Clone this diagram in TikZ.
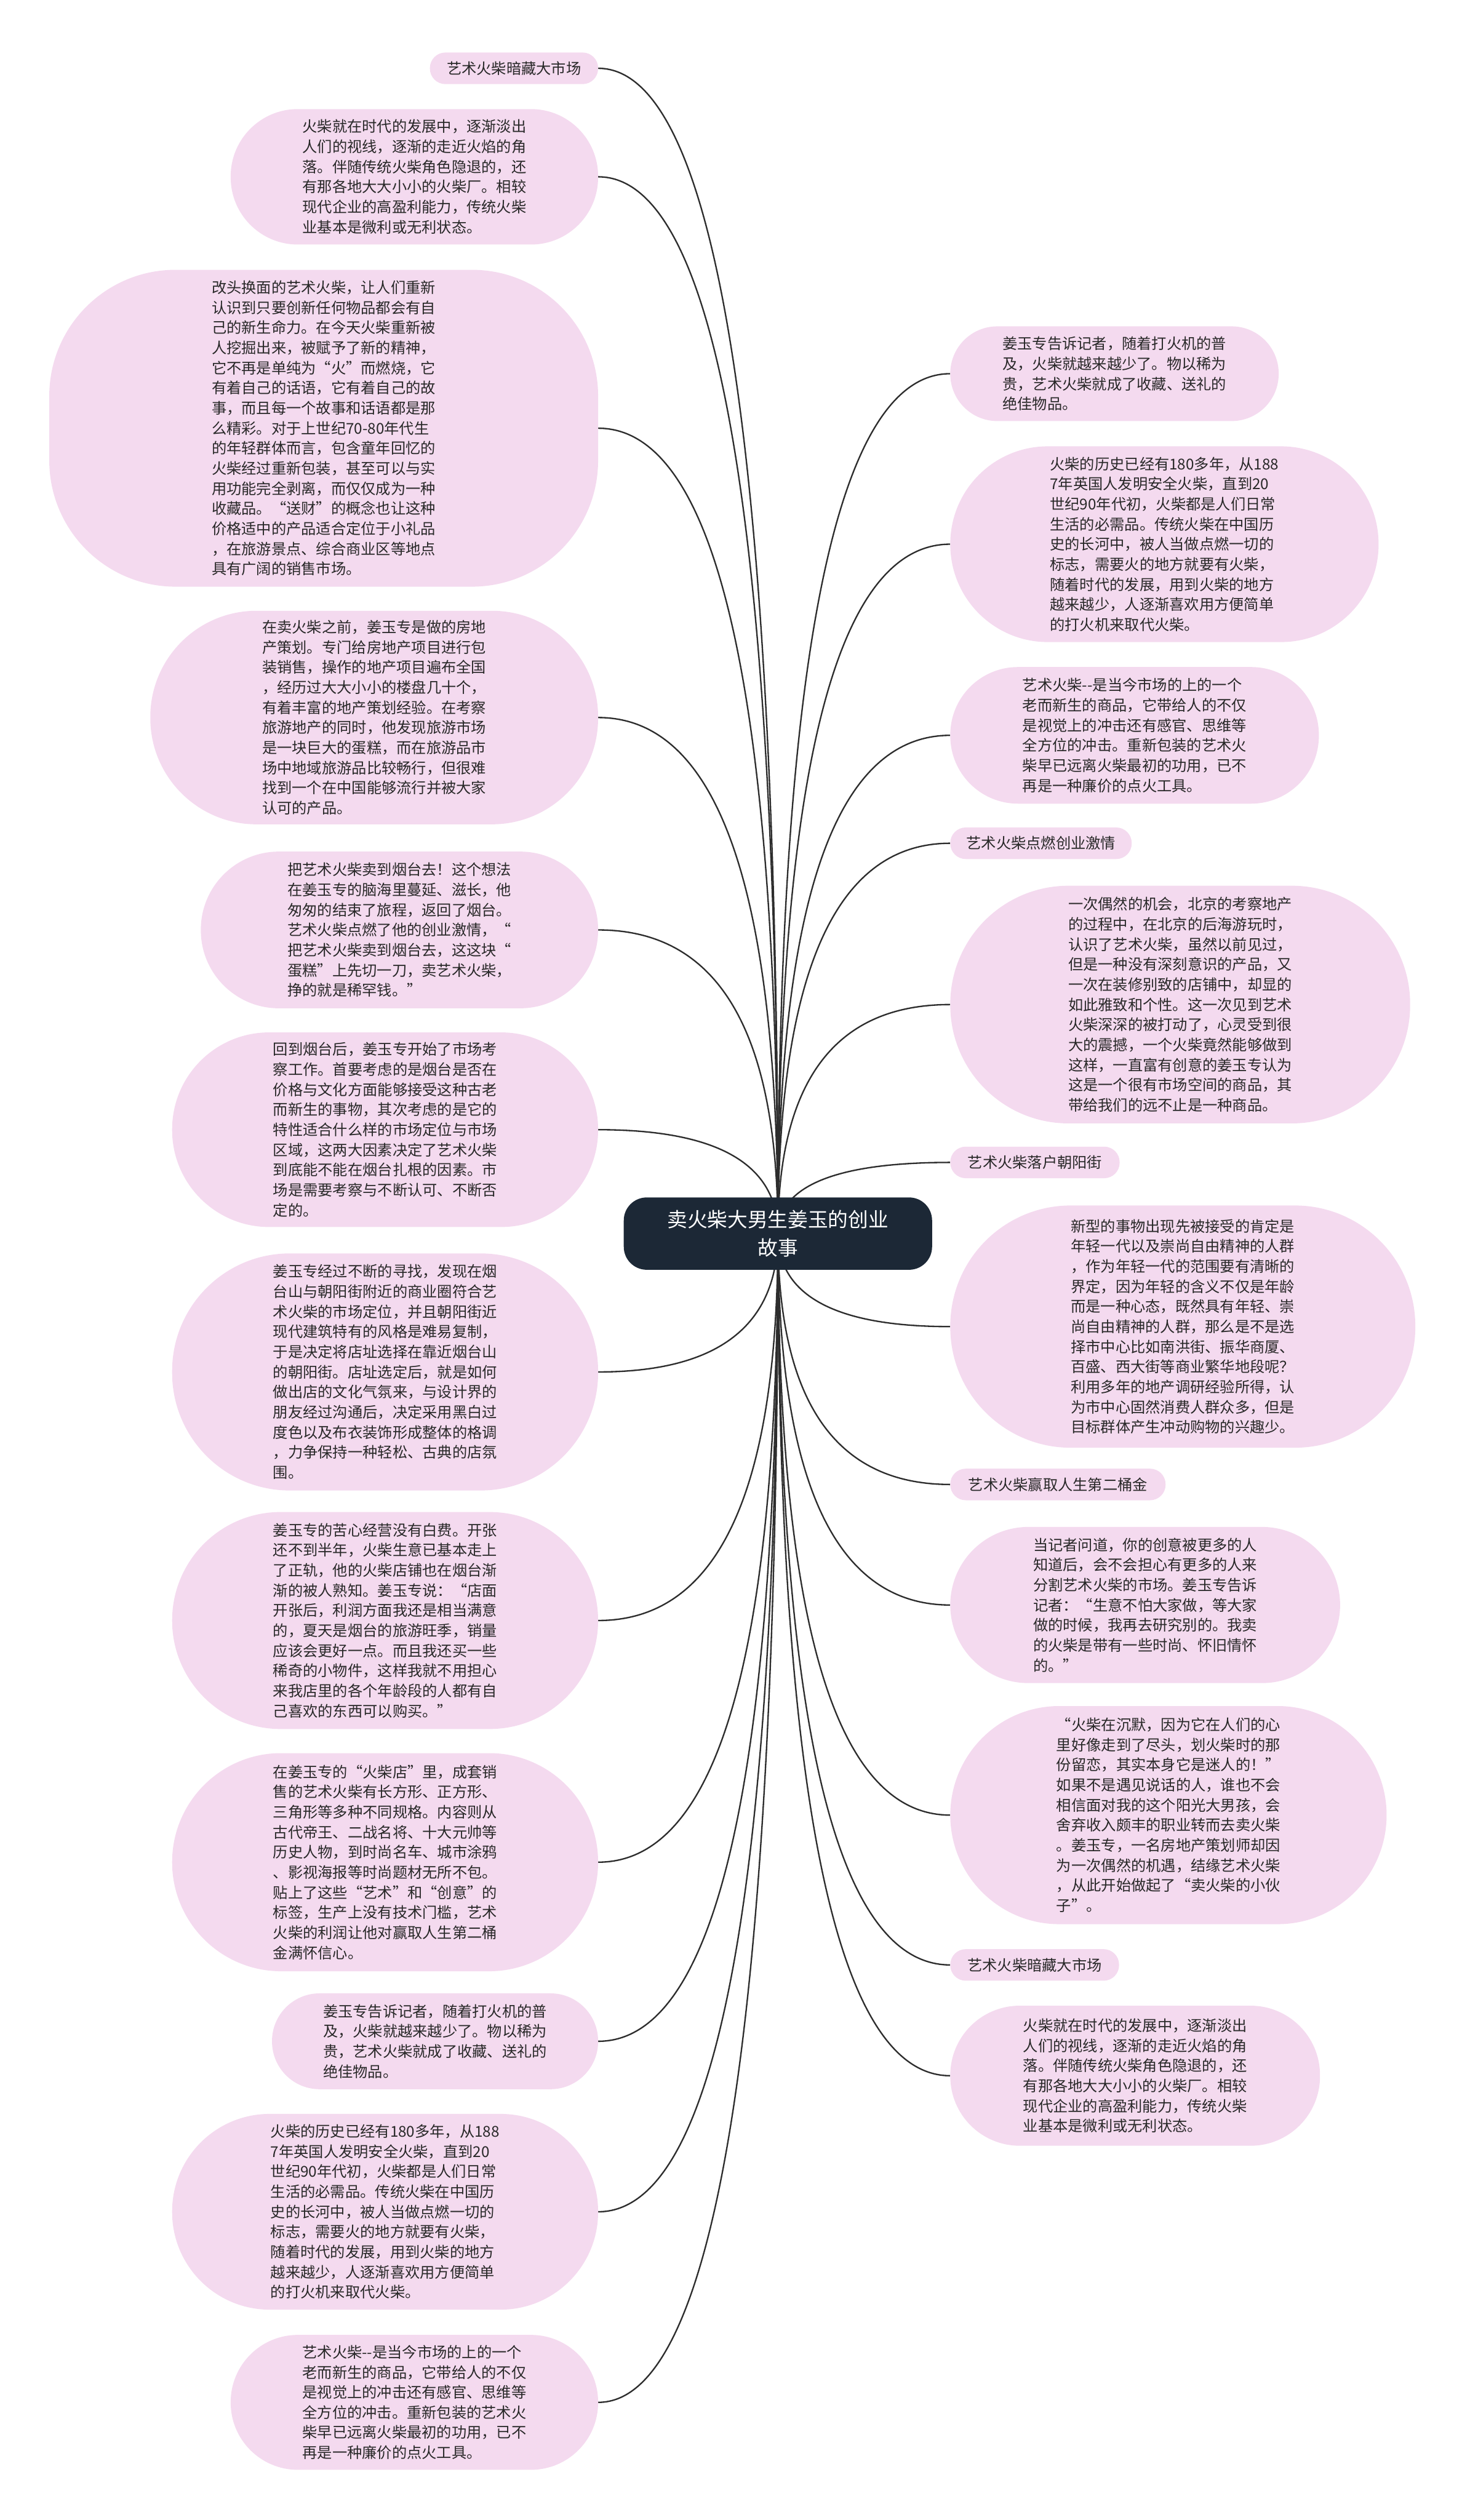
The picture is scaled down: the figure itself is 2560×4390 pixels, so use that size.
\documentclass[tikz,border=0pt]{standalone}
\usepackage{fontspec}
\setmainfont{Noto Sans CJK SC}
\usetikzlibrary{calc,backgrounds}

\definecolor{pinkbg}{RGB}{244,218,239}
\definecolor{rootnavy}{RGB}{28,40,54}
\definecolor{inkgray}{RGB}{40,40,40}
\definecolor{linkgray}{RGB}{45,45,45}

\begin{document}
\begin{tikzpicture}[
    x=1pt, y=-1pt,
    bubble/.style={fill=pinkbg, text=inkgray, align=left, inner sep=0pt,
        font=\fontsize{26pt}{35pt}\selectfont},
    topic/.style={bubble, align=center, minimum height=55pt, rounded corners=27pt},
    root/.style={fill=rootnavy, text=white, align=center, inner sep=0pt,
        minimum width=537pt, minimum height=126pt, rounded corners=40pt,
        font=\fontsize{35pt}{50pt}\selectfont},
    link/.style={draw=linkgray, line width=2.5pt},
    branch/.style={to path={.. controls ($(\tikztostart)!0.667!(\tikztostart |- \tikztotarget)$)
        and ($(\tikztotarget)!0.667!(\tikztostart |- \tikztotarget)$) .. (\tikztotarget)}}
]
    \useasboundingbox (0,0) rectangle (2560,4390);

    % 中心节点
    \node[root] (root) at (1355,2149) {卖火柴大男生姜玉的创业\\故事};

    % 1. 左侧分支
    \node[topic, anchor=east, minimum width=293pt] (L1) at (1042,119) {艺术火柴暗藏大市场};
    \node[bubble, anchor=east, minimum width=640pt, minimum height=236pt, rounded corners=117pt] (L2) at (1042,308) {
        火柴就在时代的发展中，逐渐淡出\\
        人们的视线，逐渐的走近火焰的角\\
        落。伴随传统火柴角色隐退的，还\\
        有那各地大大小小的火柴厂。相较\\
        现代企业的高盈利能力，传统火柴\\
        业基本是微利或无利状态。};
    \node[bubble, anchor=east, minimum width=956pt, minimum height=552pt, rounded corners=220pt] (L3) at (1042,746) {
        改头换面的艺术火柴，让人们重新\\
        认识到只要创新任何物品都会有自\\
        己的新生命力。在今天火柴重新被\\
        人挖掘出来，被赋予了新的精神，\\
        它不再是单纯为“火”而燃烧，它\\
        有着自己的话语，它有着自己的故\\
        事，而且每一个故事和话语都是那\\
        么精彩。对于上世纪70-80年代生\\
        的年轻群体而言，包含童年回忆的\\
        火柴经过重新包装，甚至可以与实\\
        用功能完全剥离，而仅仅成为一种\\
        收藏品。“送财”的概念也让这种\\
        价格适中的产品适合定位于小礼品\\
        ，在旅游景点、综合商业区等地点\\
        具有广阔的销售市场。};
    \node[bubble, anchor=east, minimum width=780pt, minimum height=372pt, rounded corners=185pt] (L4) at (1042,1250) {
        在卖火柴之前，姜玉专是做的房地\\
        产策划。专门给房地产项目进行包\\
        装销售，操作的地产项目遍布全国\\
        ，经历过大大小小的楼盘几十个，\\
        有着丰富的地产策划经验。在考察\\
        旅游地产的同时，他发现旅游市场\\
        是一块巨大的蛋糕，而在旅游品市\\
        场中地域旅游品比较畅行，但很难\\
        找到一个在中国能够流行并被大家\\
        认可的产品。};
    \node[bubble, anchor=east, minimum width=692pt, minimum height=273pt, rounded corners=136pt] (L5) at (1042,1620) {
        把艺术火柴卖到烟台去！这个想法\\
        在姜玉专的脑海里蔓延、滋长，他\\
        匆匆的结束了旅程，返回了烟台。\\
        艺术火柴点燃了他的创业激情，“\\
        把艺术火柴卖到烟台去，这这块“\\
        蛋糕”上先切一刀，卖艺术火柴，\\
        挣的就是稀罕钱。”};
    \node[bubble, anchor=east, minimum width=742pt, minimum height=339pt, rounded corners=169pt] (L6) at (1042,1968) {
        回到烟台后，姜玉专开始了市场考\\
        察工作。首要考虑的是烟台是否在\\
        价格与文化方面能够接受这种古老\\
        而新生的事物，其次考虑的是它的\\
        特性适合什么样的市场定位与市场\\
        区域，这两大因素决定了艺术火柴\\
        到底能不能在烟台扎根的因素。市\\
        场是需要考察与不断认可、不断否\\
        定的。};
    \node[bubble, anchor=east, minimum width=742pt, minimum height=413pt, rounded corners=205pt] (L7) at (1042,2390) {
        姜玉专经过不断的寻找，发现在烟\\
        台山与朝阳街附近的商业圈符合艺\\
        术火柴的市场定位，并且朝阳街近\\
        现代建筑特有的风格是难易复制，\\
        于是决定将店址选择在靠近烟台山\\
        的朝阳街。店址选定后，就是如何\\
        做出店的文化气氛来，与设计界的\\
        朋友经过沟通后，决定采用黑白过\\
        度色以及布衣装饰形成整体的格调\\
        ，力争保持一种轻松、古典的店氛\\
        围。};
    \node[bubble, anchor=east, minimum width=742pt, minimum height=378pt, rounded corners=189pt] (L8) at (1042,2823) {
        姜玉专的苦心经营没有白费。开张\\
        还不到半年，火柴生意已基本走上\\
        了正轨，他的火柴店铺也在烟台渐\\
        渐的被人熟知。姜玉专说：“店面\\
        开张后，利润方面我还是相当满意\\
        的，夏天是烟台的旅游旺季，销量\\
        应该会更好一点。而且我还买一些\\
        稀奇的小物件，这样我就不用担心\\
        来我店里的各个年龄段的人都有自\\
        己喜欢的东西可以购买。”};
    \node[bubble, anchor=east, minimum width=742pt, minimum height=380pt, rounded corners=190pt] (L9) at (1042,3244) {
        在姜玉专的“火柴店”里，成套销\\
        售的艺术火柴有长方形、正方形、\\
        三角形等多种不同规格。内容则从\\
        古代帝王、二战名将、十大元帅等\\
        历史人物，到时尚名车、城市涂鸦\\
        、影视海报等时尚题材无所不包。\\
        贴上了这些“艺术”和“创意”的\\
        标签，生产上没有技术门槛，艺术\\
        火柴的利润让他对赢取人生第二桶\\
        金满怀信心。};
    \node[bubble, anchor=east, minimum width=568pt, minimum height=167pt, rounded corners=83pt] (L10) at (1042,3556) {
        姜玉专告诉记者，随着打火机的普\\
        及，火柴就越来越少了。物以稀为\\
        贵，艺术火柴就成了收藏、送礼的\\
        绝佳物品。};
    \node[bubble, anchor=east, minimum width=742pt, minimum height=341pt, rounded corners=170pt] (L11) at (1042,3853) {
        火柴的历史已经有180多年，从188\\
        7年英国人发明安全火柴，直到20\\
        世纪90年代初，火柴都是人们日常\\
        生活的必需品。传统火柴在中国历\\
        史的长河中，被人当做点燃一切的\\
        标志，需要火的地方就要有火柴，\\
        随着时代的发展，用到火柴的地方\\
        越来越少，人逐渐喜欢用方便简单\\
        的打火机来取代火柴。};
    \node[bubble, anchor=east, minimum width=640pt, minimum height=235pt, rounded corners=117pt] (L12) at (1042,4185) {
        艺术火柴-{}-是当今市场的上的一个\\
        老而新生的商品，它带给人的不仅\\
        是视觉上的冲击还有感官、思维等\\
        全方位的冲击。重新包装的艺术火\\
        柴早已远离火柴最初的功用，已不\\
        再是一种廉价的点火工具。};

    % 2. 右侧分支
    \node[bubble, anchor=west, minimum width=572pt, minimum height=165pt, rounded corners=82pt] (R1) at (1655,651) {
        姜玉专告诉记者，随着打火机的普\\
        及，火柴就越来越少了。物以稀为\\
        贵，艺术火柴就成了收藏、送礼的\\
        绝佳物品。};
    \node[bubble, anchor=west, minimum width=746pt, minimum height=341pt, rounded corners=170pt] (R2) at (1655,948) {
        火柴的历史已经有180多年，从188\\
        7年英国人发明安全火柴，直到20\\
        世纪90年代初，火柴都是人们日常\\
        生活的必需品。传统火柴在中国历\\
        史的长河中，被人当做点燃一切的\\
        标志，需要火的地方就要有火柴，\\
        随着时代的发展，用到火柴的地方\\
        越来越少，人逐渐喜欢用方便简单\\
        的打火机来取代火柴。};
    \node[bubble, anchor=west, minimum width=642pt, minimum height=238pt, rounded corners=118pt] (R3) at (1655,1281) {
        艺术火柴-{}-是当今市场的上的一个\\
        老而新生的商品，它带给人的不仅\\
        是视觉上的冲击还有感官、思维等\\
        全方位的冲击。重新包装的艺术火\\
        柴早已远离火柴最初的功用，已不\\
        再是一种廉价的点火工具。};
    \node[topic, anchor=west, minimum width=316pt] (R4) at (1655,1469) {艺术火柴点燃创业激情};
    \node[bubble, anchor=west, minimum width=801pt, minimum height=414pt, rounded corners=206pt] (R5) at (1655,1750) {
        一次偶然的机会，北京的考察地产\\
        的过程中，在北京的后海游玩时，\\
        认识了艺术火柴，虽然以前见过，\\
        但是一种没有深刻意识的产品，又\\
        一次在装修别致的店铺中，却显的\\
        如此雅致和个性。这一次见到艺术\\
        火柴深深的被打动了，心灵受到很\\
        大的震撼，一个火柴竟然能够做到\\
        这样，一直富有创意的姜玉专认为\\
        这是一个很有市场空间的商品，其\\
        带给我们的远不止是一种商品。};
    \node[topic, anchor=west, minimum width=295pt] (R6) at (1655,2025) {艺术火柴落户朝阳街};
    \node[bubble, anchor=west, minimum width=810pt, minimum height=422pt, rounded corners=210pt] (R7) at (1655,2311) {
        新型的事物出现先被接受的肯定是\\
        年轻一代以及崇尚自由精神的人群\\
        ，作为年轻一代的范围要有清晰的\\
        界定，因为年轻的含义不仅是年龄\\
        而是一种心态，既然具有年轻、崇\\
        尚自由精神的人群，那么是不是选\\
        择市中心比如南洪街、振华商厦、\\
        百盛、西大街等商业繁华地段呢？\\
        利用多年的地产调研经验所得，认\\
        为市中心固然消费人群众多，但是\\
        目标群体产生冲动购物的兴趣少。};
    \node[topic, anchor=west, minimum width=375pt] (R8) at (1655,2586) {艺术火柴赢取人生第二桶金};
    \node[bubble, anchor=west, minimum width=679pt, minimum height=272pt, rounded corners=136pt] (R9) at (1655,2796) {
        当记者问道，你的创意被更多的人\\
        知道后，会不会担心有更多的人来\\
        分割艺术火柴的市场。姜玉专告诉\\
        记者：“生意不怕大家做，等大家\\
        做的时候，我再去研究别的。我卖\\
        的火柴是带有一些时尚、怀旧情怀\\
        的。”};
    \node[bubble, anchor=west, minimum width=760pt, minimum height=380pt, rounded corners=190pt] (R10) at (1655,3162) {
        “火柴在沉默，因为它在人们的心\\
        里好像走到了尽头，划火柴时的那\\
        份留恋，其实本身它是迷人的！”\\
        如果不是遇见说话的人，谁也不会\\
        相信面对我的这个阳光大男孩，会\\
        舍弃收入颇丰的职业转而去卖火柴\\
        。姜玉专，一名房地产策划师却因\\
        为一次偶然的机遇，结缘艺术火柴\\
        ，从此开始做起了“卖火柴的小伙\\
        子”。};
    \node[topic, anchor=west, minimum width=294pt] (R11) at (1655,3423) {艺术火柴暗藏大市场};
    \node[bubble, anchor=west, minimum width=644pt, minimum height=244pt, rounded corners=121pt] (R12) at (1655,3616) {
        火柴就在时代的发展中，逐渐淡出\\
        人们的视线，逐渐的走近火焰的角\\
        落。伴随传统火柴角色隐退的，还\\
        有那各地大大小小的火柴厂。相较\\
        现代企业的高盈利能力，传统火柴\\
        业基本是微利或无利状态。};

    % 3. 连线 (放在背景层)
    \begin{scope}[on background layer]
        \foreach \i in {1,...,12} {
            \draw[link] (root.center) to[branch] (L\i.east);
            \draw[link] (root.center) to[branch] (R\i.west);
        }
    \end{scope}

\end{tikzpicture}
\end{document}
